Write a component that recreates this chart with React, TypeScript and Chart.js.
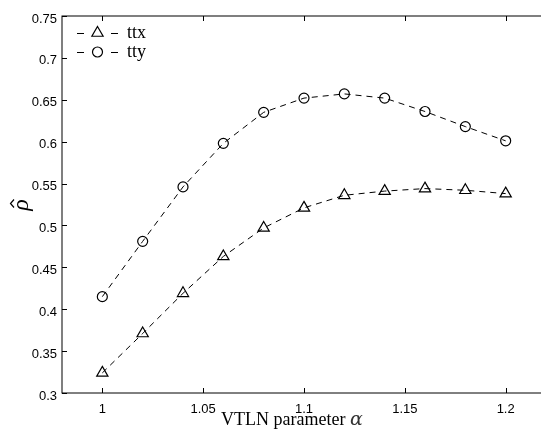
import React, { useEffect, useRef } from "react";
import { Chart, registerables } from "chart.js";

Chart.register(...registerables);

const alphas = [1.0, 1.02, 1.04, 1.06, 1.08, 1.1, 1.12, 1.14, 1.16, 1.18, 1.2];
const ttxValues = [0.324, 0.371, 0.419, 0.463, 0.497, 0.521, 0.536, 0.541, 0.544, 0.542, 0.538];
const ttyValues = [0.415, 0.481, 0.546, 0.598, 0.635, 0.652, 0.657, 0.652, 0.636, 0.618, 0.601];
const seriesLabels = ["ttx", "tty"];
const xTicks = [1, 1.05, 1.1, 1.15, 1.2];
const xTickLabels = ["1", "1.05", "1.1", "1.15", "1.2"];
const yTicks = [0.3, 0.35, 0.4, 0.45, 0.5, 0.55, 0.6, 0.65, 0.7, 0.75];
const yTickLabels = ["0.3", "0.35", "0.4", "0.45", "0.5", "0.55", "0.6", "0.65", "0.7", "0.75"];
const xTitle = "VTLN parameter ";
const xTitleSymbol = "α";
const yTitle = "ρ";

const CANVAS_W = 560;
const CANVAS_H = 438;

function drawMarker(ctx: CanvasRenderingContext2D, style: string, x: number, y: number, r: number) {
  ctx.beginPath();
  if (style === "triangle") {
    let rad = 0;
    ctx.moveTo(x + Math.sin(rad) * r, y - Math.cos(rad) * r);
    rad += (2 * Math.PI) / 3;
    ctx.lineTo(x + Math.sin(rad) * r, y - Math.cos(rad) * r);
    rad += (2 * Math.PI) / 3;
    ctx.lineTo(x + Math.sin(rad) * r, y - Math.cos(rad) * r);
    ctx.closePath();
  } else {
    ctx.arc(x, y, r, 0, Math.PI * 2);
  }
  ctx.stroke();
}

const framePlugin = {
  id: "matlabFrame",
  afterDatasetsDraw(chart: any) {
    const { ctx, chartArea } = chart;
    const { left, right, top, bottom } = chartArea;
    const xs = chart.scales.x;
    const ys = chart.scales.y;
    ctx.save();
    ctx.strokeStyle = "#000";
    ctx.lineWidth = 1;
    ctx.setLineDash([]);
    ctx.strokeRect(left, top, right - left, bottom - top);
    const tl = 5;
    ctx.beginPath();
    xTicks.forEach((v) => {
      const px = Math.round(xs.getPixelForValue(v)) + 0.5;
      ctx.moveTo(px, bottom);
      ctx.lineTo(px, bottom - tl);
      ctx.moveTo(px, top);
      ctx.lineTo(px, top + tl);
    });
    yTicks.forEach((v) => {
      const py = Math.round(ys.getPixelForValue(v)) + 0.5;
      ctx.moveTo(left, py);
      ctx.lineTo(left + tl, py);
      ctx.moveTo(right, py);
      ctx.lineTo(right - tl, py);
    });
    ctx.stroke();

    // legend
    const items = chart.data.datasets;
    const legendY = [33, 52];
    items.forEach((ds: any, i: number) => {
      const y = Math.round(legendY[i]) + 0.5;
      ctx.strokeStyle = "#000";
      ctx.lineWidth = 1;
      ctx.setLineDash([]);
      ctx.beginPath();
      ctx.moveTo(77, y);
      ctx.lineTo(84, y);
      ctx.moveTo(111, y);
      ctx.lineTo(118, y);
      ctx.stroke();
      ctx.lineWidth = 1.2;
      drawMarker(ctx, ds.pointStyle, 97.5, legendY[i], ds.pointRadius);
      ctx.fillStyle = "#000";
      ctx.font = "18px 'Liberation Serif'";
      ctx.textBaseline = "middle";
      ctx.textAlign = "left";
      ctx.fillText(ds.label, 127, legendY[i]);
    });

    // x title
    ctx.font = "18px 'Liberation Serif'";
    const w1 = ctx.measureText(xTitle).width;
    ctx.font = "italic 19px 'DejaVu Serif'";
    const w2 = ctx.measureText(xTitleSymbol).width;
    const startX = 292 - (w1 + w2) / 2;
    ctx.textBaseline = "alphabetic";
    ctx.font = "18px 'Liberation Serif'";
    ctx.fillStyle = "#000";
    ctx.fillText(xTitle, startX, 425);
    ctx.font = "italic 19px 'DejaVu Serif'";
    ctx.fillStyle = "#333";
    ctx.fillText(xTitleSymbol, startX + w1, 425);

    // y title (rho with hat)
    ctx.save();
    ctx.translate(28, 205);
    ctx.rotate(-Math.PI / 2);
    ctx.font = "italic 24px 'Liberation Serif'";
    ctx.fillStyle = "#000";
    ctx.textAlign = "center";
    ctx.textBaseline = "alphabetic";
    ctx.fillText(yTitle, 0, 0);
    ctx.strokeStyle = "#000";
    ctx.lineWidth = 1.2;
    ctx.beginPath();
    ctx.moveTo(-2.5, -14);
    ctx.lineTo(1.5, -17.5);
    ctx.lineTo(5.5, -14);
    ctx.stroke();
    ctx.restore();
    ctx.restore();
  },
};

export default function App() {
  const canvasRef = useRef<HTMLCanvasElement | null>(null);

  useEffect(() => {
    const canvas = canvasRef.current;
    if (!canvas) return;
    const lineStyle = {
      borderColor: "#000",
      borderWidth: 1,
      borderDash: [6, 5],
      pointBackgroundColor: "rgba(0,0,0,0)",
      pointBorderColor: "#000",
      pointBorderWidth: 1.2,
      fill: false,
      tension: 0,
    };
    const chart = new Chart(canvas, {
      type: "line",
      data: {
        datasets: [
          {
            ...lineStyle,
            label: seriesLabels[0],
            data: alphas.map((a, i) => ({ x: a, y: ttxValues[i] })),
            pointStyle: "triangle",
            pointRadius: 6.5,
          },
          {
            ...lineStyle,
            label: seriesLabels[1],
            data: alphas.map((a, i) => ({ x: a, y: ttyValues[i] })),
            pointStyle: "circle",
            pointRadius: 5,
          },
        ],
      } as any,
      options: {
        responsive: false,
        animation: false,
        devicePixelRatio: 1,
        layout: { padding: { top: 16, right: 14, left: 0, bottom: 0 } },
        plugins: {
          legend: { display: false },
          tooltip: { enabled: false },
          title: { display: false },
        },
        scales: {
          x: {
            type: "linear",
            min: 0.98,
            max: 1.22,
            grid: { display: false, drawTicks: false },
            border: { display: false },
            afterBuildTicks: (s: any) => {
              s.ticks = xTicks.map((v) => ({ value: v }));
            },
            afterFit: (s: any) => {
              s.height = 45;
            },
            ticks: {
              padding: 9,
              color: "#000",
              font: { family: "'Liberation Sans'", size: 13 },
              maxRotation: 0,
              autoSkip: false,
              callback: (v: any) => {
                const i = xTicks.findIndex((t) => Math.abs(t - Number(v)) < 1e-9);
                return i >= 0 ? xTickLabels[i] : "";
              },
            },
          },
          y: {
            type: "linear",
            min: 0.3,
            max: 0.75,
            grid: { display: false, drawTicks: false },
            border: { display: false },
            afterBuildTicks: (s: any) => {
              s.ticks = yTicks.map((v) => ({ value: v }));
            },
            afterFit: (s: any) => {
              s.width = 62;
            },
            ticks: {
              padding: 5,
              labelOffset: 3,
              color: "#000",
              font: { family: "'Liberation Sans'", size: 13 },
              autoSkip: false,
              callback: (v: any) => {
                const i = yTicks.findIndex((t) => Math.abs(t - Number(v)) < 1e-9);
                return i >= 0 ? yTickLabels[i] : "";
              },
            },
          },
        },
      } as any,
      plugins: [framePlugin],
    });
    return () => chart.destroy();
  }, []);

  return (
    <div
      style={{
        position: "fixed",
        left: 0,
        top: 0,
        width: 541,
        height: 438,
        overflow: "hidden",
        background: "#fff",
      }}
    >
      <canvas ref={canvasRef} width={CANVAS_W} height={CANVAS_H} style={{ display: "block" }} />
    </div>
  );
}
